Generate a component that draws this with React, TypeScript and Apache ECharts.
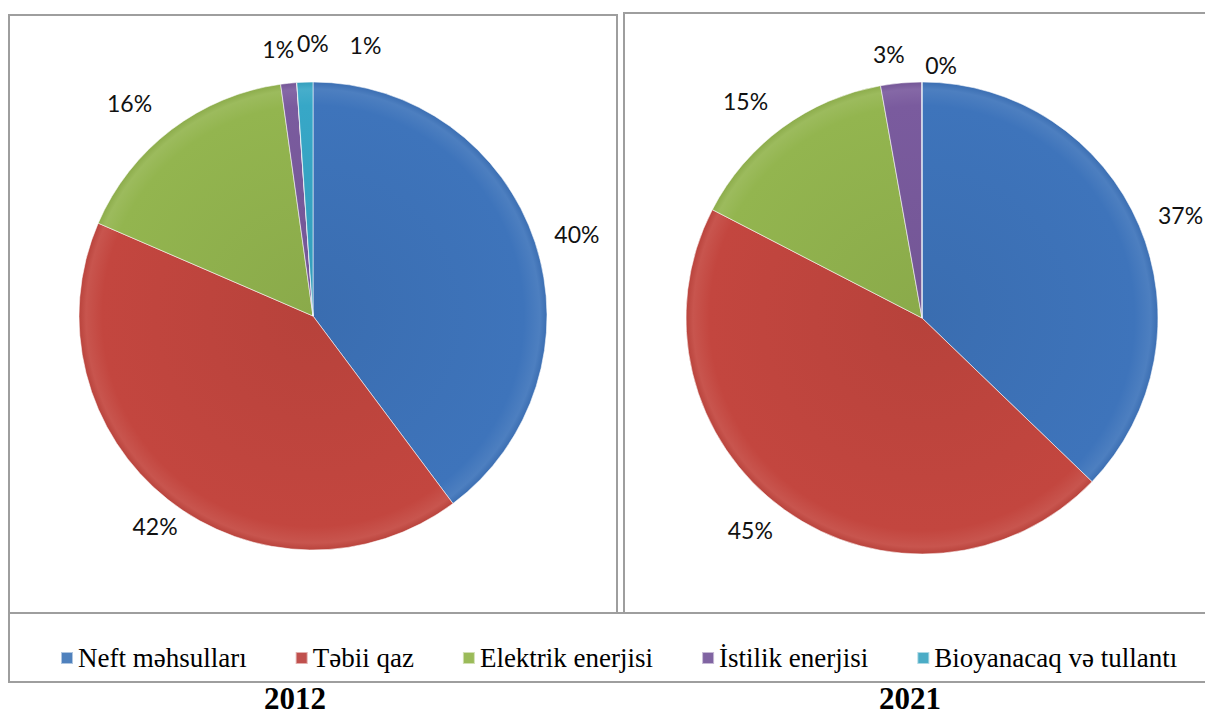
import React, { useEffect, useRef } from "react";
import * as echarts from "echarts";

const categories = [
  "Neft məhsulları",
  "Təbii qaz",
  "Elektrik enerjisi",
  "İstilik enerjisi",
  "Bioyanacaq və tullantı",
];
const years = ["2012", "2021"];
// 2012 has an extra unnamed item printed as 0% between İstilik and Bioyanacaq
const names2012 = [categories[0], categories[1], categories[2], categories[3], "Digər", categories[4]];
const values2012 = [39.8, 41.7, 16.3, 1.1, 0.01, 1.1];
const names2021 = [categories[0], categories[1], categories[2], categories[3], categories[4]];
const values2021 = [37.2, 45.4, 14.6, 2.8, 0.01];

// label nudges (dx, dy) to follow the reference's label placement
const nudges2012 = [[0, -4], [24, 15], [-5, -15], [12, -19], [38, -25], [82, -22]];
const nudges2021 = [[0, -5], [2, 8], [0, -15], [10, -14], [40, -2]];

const colorMap: Record<string, string> = {
  "Neft məhsulları": "#3E74BB",
  "Təbii qaz": "#C3463F",
  "Elektrik enerjisi": "#93B54F",
  "İstilik enerjisi": "#7A5B9E",
  "Bioyanacaq və tullantı": "#37A7C7",
  "Digər": "#F79646",
};
const legendColors: Record<string, string> = {
  "Neft məhsulları": "#4F81BD",
  "Təbii qaz": "#C0504D",
  "Elektrik enerjisi": "#9BBB59",
  "İstilik enerjisi": "#8064A2",
  "Bioyanacaq və tullantı": "#4BACC6",
};

function shade(hex: string, amt: number) {
  const n = parseInt(hex.slice(1), 16);
  const f = (c: number) => Math.max(0, Math.min(255, Math.round(amt >= 0 ? c + (255 - c) * amt : c * (1 + amt))));
  const r = f((n >> 16) & 255), g = f((n >> 8) & 255), b = f(n & 255);
  return `rgb(${r},${g},${b})`;
}

export default function App() {
  const ref = useRef<HTMLDivElement>(null);
  useEffect(() => {
    if (!ref.current) return;
    const chart = echarts.init(ref.current, null, { renderer: "svg" });
    const labelFont = { fontFamily: "Lato", fontSize: 23, color: "#111" };
    const mkSeries = (name: string, names: string[], values: number[], center: number[], radius: number, nudges: number[][]) => ({
      type: "pie",
      name,
      center,
      radius,
      startAngle: 90,
      clockwise: true,
      avoidLabelOverlap: false,
      stillShowZeroSum: true,
      data: names.map((n, i) => ({
        name: n,
        value: values[i],
        itemStyle: {
          color: new echarts.graphic.RadialGradient(center[0], center[1], radius, [
            { offset: 0, color: shade(colorMap[n], -0.06) },
            { offset: 0.9, color: colorMap[n] },
            { offset: 0.97, color: shade(colorMap[n], 0.08) },
            { offset: 1, color: shade(colorMap[n], -0.05) },
          ], true),
        },
      })),
      itemStyle: { borderColor: "rgba(255,255,255,0.55)", borderWidth: 1 },
      label: {
        show: true,
        position: "outside",
        formatter: (p: any) => Math.round(p.percent) + "%",
        ...labelFont,
      },
      labelLine: { show: false, length: 15, length2: 0 },
      labelLayout: (p: any) => {
        const d = nudges[p.dataIndex] || [0, 0];
        return { hideOverlap: false, moveOverlap: false, dx: d[0], dy: d[1] };
      },
      emphasis: { disabled: true },
    });
    chart.setOption({
      animation: false,
      legend: {
        data: categories.map((c) => ({ name: c, itemStyle: { color: legendColors[c] } })),
        left: 55,
        top: 639,
        itemWidth: 12,
        itemHeight: 12,
        itemGap: 48,
        icon: "rect",
        selectedMode: false,
        textStyle: { fontFamily: "Liberation Serif", fontSize: 27, color: "#000", lineHeight: 28 },
      },
      graphic: [
        { type: "rect", shape: { x: 9, y: 15, width: 608, height: 598 }, style: { fill: "none", stroke: "#9E9E9E", lineWidth: 2 }, z: 0 },
        { type: "rect", shape: { x: 624, y: 13, width: 600, height: 600 }, style: { fill: "none", stroke: "#9E9E9E", lineWidth: 2 }, z: 0 },
        { type: "rect", shape: { x: 9, y: 613, width: 1210, height: 69 }, style: { fill: "none", stroke: "#9E9E9E", lineWidth: 2 }, z: 0 },
        { type: "text", x: 295, y: 698, style: { text: years[0], font: "bold 31px 'Liberation Serif'", fill: "#000", textAlign: "center", textVerticalAlign: "middle" } },
        { type: "text", x: 910, y: 698, style: { text: years[1], font: "bold 31px 'Liberation Serif'", fill: "#000", textAlign: "center", textVerticalAlign: "middle" } },
      ],
      series: [
        mkSeries(years[0], names2012, values2012, [313, 316], 234, nudges2012),
        mkSeries(years[1], names2021, values2021, [922, 318], 236, nudges2021),
      ],
    });
    return () => chart.dispose();
  }, []);
  return (
    <div style={{ position: "absolute", left: 0, top: 0, width: 1205, height: 714, background: "#fff" }}>
      <div ref={ref} style={{ width: 1205, height: 714 }} />
    </div>
  );
}
